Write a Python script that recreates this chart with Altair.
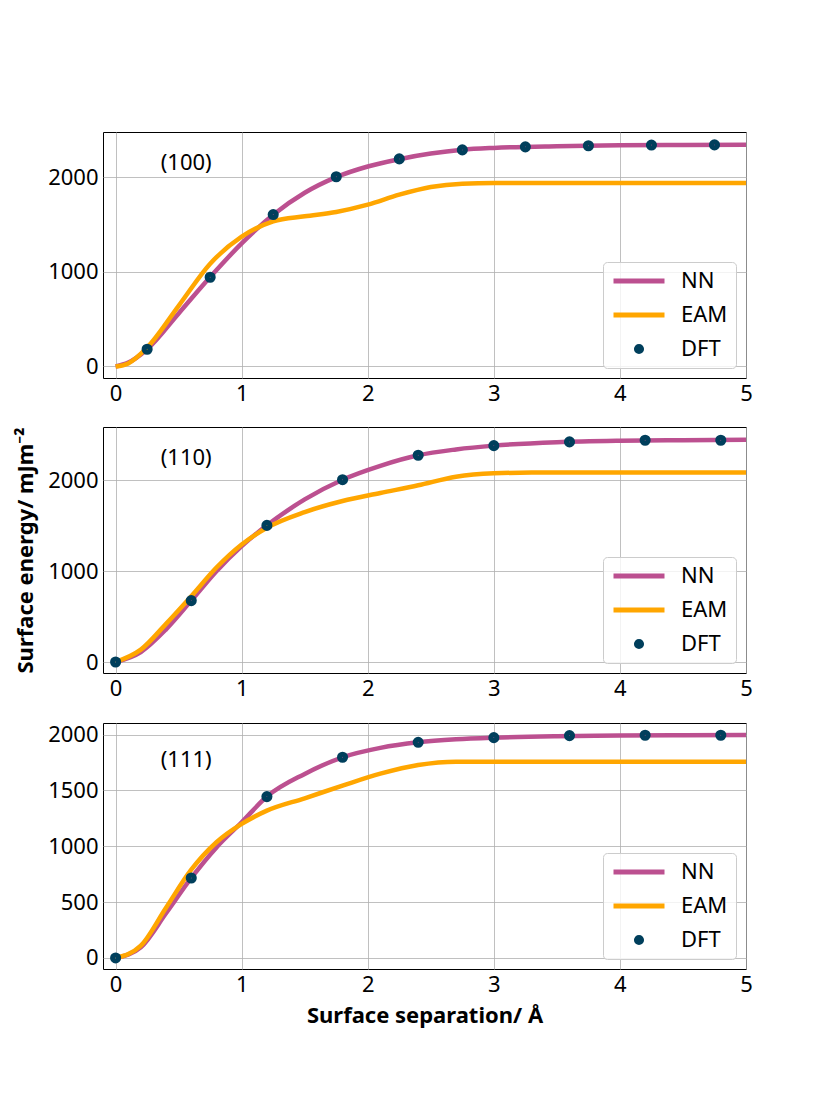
import altair as alt
import pandas as pd

FONT = "Noto Sans"
series_names = ["NN", "EAM", "DFT"]
series_colors = ["#bc5090", "#ffa600", "#003f5c"]
x_ticks = [0, 1, 2, 3, 4, 5]

# ---- (100) ----
nn100_x = [0, 0.1, 0.25, 0.5, 0.75, 1.0, 1.25, 1.5, 1.75, 2.0, 2.25, 2.5, 2.75, 3.0, 3.5, 4.0, 4.5, 5.0]
nn100_y = [0, 40, 182, 560, 944, 1300, 1603, 1835, 2000, 2112, 2189, 2248, 2288, 2308, 2326, 2335, 2339, 2342]
eam100_x = [0, 0.1, 0.25, 0.5, 0.75, 1.0, 1.25, 1.5, 1.75, 2.0, 2.25, 2.5, 2.75, 3.0, 3.5, 5.0]
eam100_y = [0, 32, 200, 640, 1085, 1370, 1533, 1586, 1632, 1709, 1814, 1895, 1930, 1937, 1937, 1937]
dft100_x = [0.25, 0.75, 1.25, 1.75, 2.25, 2.75, 3.25, 3.75, 4.25, 4.75]
dft100_y = [182, 942, 1604, 2003, 2192, 2287, 2319, 2331, 2338, 2340]

# ---- (110) ----
nn110_x = [0, 0.2, 0.4, 0.6, 0.8, 1.0, 1.2, 1.5, 1.8, 2.1, 2.4, 2.7, 3.0, 3.5, 4.0, 4.5, 5.0]
nn110_y = [0, 110, 360, 676, 1000, 1276, 1504, 1790, 2007, 2160, 2276, 2340, 2382, 2420, 2436, 2442, 2446]
eam110_x = [0, 0.2, 0.4, 0.6, 0.8, 1.0, 1.2, 1.5, 1.8, 2.1, 2.4, 2.7, 3.0, 3.3, 5.0]
eam110_y = [0, 136, 420, 724, 1040, 1294, 1478, 1650, 1772, 1860, 1945, 2040, 2077, 2085, 2085]
dft110_x = [0, 0.6, 1.2, 1.8, 2.4, 3.0, 3.6, 4.2, 4.8]
dft110_y = [0, 676, 1504, 2007, 2276, 2382, 2423, 2441, 2441]

# ---- (111) ----
nn111_x = [0, 0.2, 0.4, 0.6, 0.8, 1.0, 1.2, 1.5, 1.8, 2.1, 2.4, 2.7, 3.0, 3.5, 4.0, 4.5, 5.0]
nn111_y = [0, 96, 400, 716, 990, 1215, 1445, 1648, 1797, 1881, 1931, 1958, 1973, 1986, 1992, 1995, 1997]
eam111_x = [0, 0.2, 0.4, 0.6, 0.8, 1.0, 1.2, 1.5, 1.8, 2.1, 2.4, 2.7, 3.0, 5.0]
eam111_y = [0, 110, 450, 790, 1036, 1200, 1319, 1430, 1543, 1650, 1728, 1758, 1758, 1758]
dft111_x = [0, 0.6, 1.2, 1.8, 2.4, 3.0, 3.6, 4.2, 4.8]
dft111_y = [0, 716, 1445, 1797, 1931, 1973, 1991, 1994, 1994]

panel_labels = ["(100)", "(110)", "(111)"]
label_x = [0.56, 0.56, 0.56]
label_y = [2150, 2242, 1770]
y_domains = [[-122, 2476], [-121, 2587], [-99, 2104]]
y_ticks = [[0, 1000, 2000], [0, 1000, 2000], [0, 500, 1000, 1500, 2000]]

circle_path = "M-0.1,0A0.1,0.1,0,1,0,0.1,0A0.1,0.1,0,1,0,-0.1,0Z"


def long_df(xs, ys, name):
    return pd.DataFrame({"sep": xs, "energy": ys, "series": name})


def panel(i, nnx, nny, eamx, eamy, dftx, dfty, show_x_title, show_y_title):
    xs = alt.Scale(domain=[-0.1, 5], nice=False, zero=False)
    ys = alt.Scale(domain=y_domains[i], nice=False, zero=False)
    xaxis = alt.Axis(values=x_ticks, format="d", labelFlush=False,
                     title="Surface separation/ Å" if show_x_title else None)
    yaxis = alt.Axis(values=y_ticks[i], format="d", labelFlush=False,
                     title="Surface energy/ mJm⁻²" if show_y_title else None)
    leg = alt.Legend(title=None, orient="bottom-right", offset=10,
                     symbolSize=2601, symbolStrokeWidth=5, clipHeight=22,
                     rowPadding=12, labelFontSize=22, labelFont=FONT,
                     labelColor="black", labelOffset=14, padding=8,
                     fillColor="rgba(255,255,255,0.8)", strokeColor="#cccccc",
                     cornerRadius=4, symbolOpacity=1)
    color = alt.Color("series:N",
                      scale=alt.Scale(domain=series_names, range=series_colors),
                      legend=leg)
    shape = alt.Shape("series:N",
                      scale=alt.Scale(domain=series_names,
                                      range=["stroke", "stroke", circle_path]),
                      legend=leg)
    x = alt.X("sep:Q", scale=xs, axis=xaxis)
    y = alt.Y("energy:Q", scale=ys, axis=yaxis)

    nn = alt.Chart(long_df(nnx, nny, "NN")).mark_line(
        strokeWidth=4.5, interpolate="monotone", opacity=1).encode(x=x, y=y, color=color)
    eam = alt.Chart(long_df(eamx, eamy, "EAM")).mark_line(
        strokeWidth=4.5, interpolate="monotone", opacity=1).encode(x=x, y=y, color=color)
    dft = alt.Chart(long_df(dftx, dfty, "DFT")).mark_point(
        filled=False, size=2601, strokeWidth=6, opacity=1).encode(
        x=x, y=y, color=color, shape=shape)
    lab = alt.Chart(pd.DataFrame({"sep": [label_x[i]], "energy": [label_y[i]],
                                  "t": [panel_labels[i]]})).mark_text(
        font=FONT, fontSize=22, color="black", align="center", baseline="middle"
    ).encode(x=alt.X("sep:Q", scale=xs), y=alt.Y("energy:Q", scale=ys), text="t:N")
    return alt.layer(nn, eam, dft, lab).properties(width=643, height=246)


p1 = panel(0, nn100_x, nn100_y, eam100_x, eam100_y, dft100_x, dft100_y, False, False)
p2 = panel(1, nn110_x, nn110_y, eam110_x, eam110_y, dft110_x, dft110_y, False, True)
p3 = panel(2, nn111_x, nn111_y, eam111_x, eam111_y, dft111_x, dft111_y, True, False)

chart = alt.vconcat(p1, p2, p3, spacing=20).resolve_scale(
    color="independent", shape="independent", x="independent", y="independent"
).resolve_legend(color="independent", shape="independent").configure(
    padding={"left": 6, "top": 121, "right": 5, "bottom": 5},
    font=FONT,
).configure_view(
    stroke="black", strokeWidth=1
).configure_axis(
    labelFont=FONT, labelFontSize=22, labelColor="black",
    titleFont=FONT, titleFontSize=22, titleFontWeight="bold", titleColor="black",
    gridColor="#b0b0b0", gridWidth=0.8, domain=False, ticks=False,
    labelPadding=5, titlePadding=10
)

chart.save("out.html", embed_options={"renderer": "svg", "actions": False})
